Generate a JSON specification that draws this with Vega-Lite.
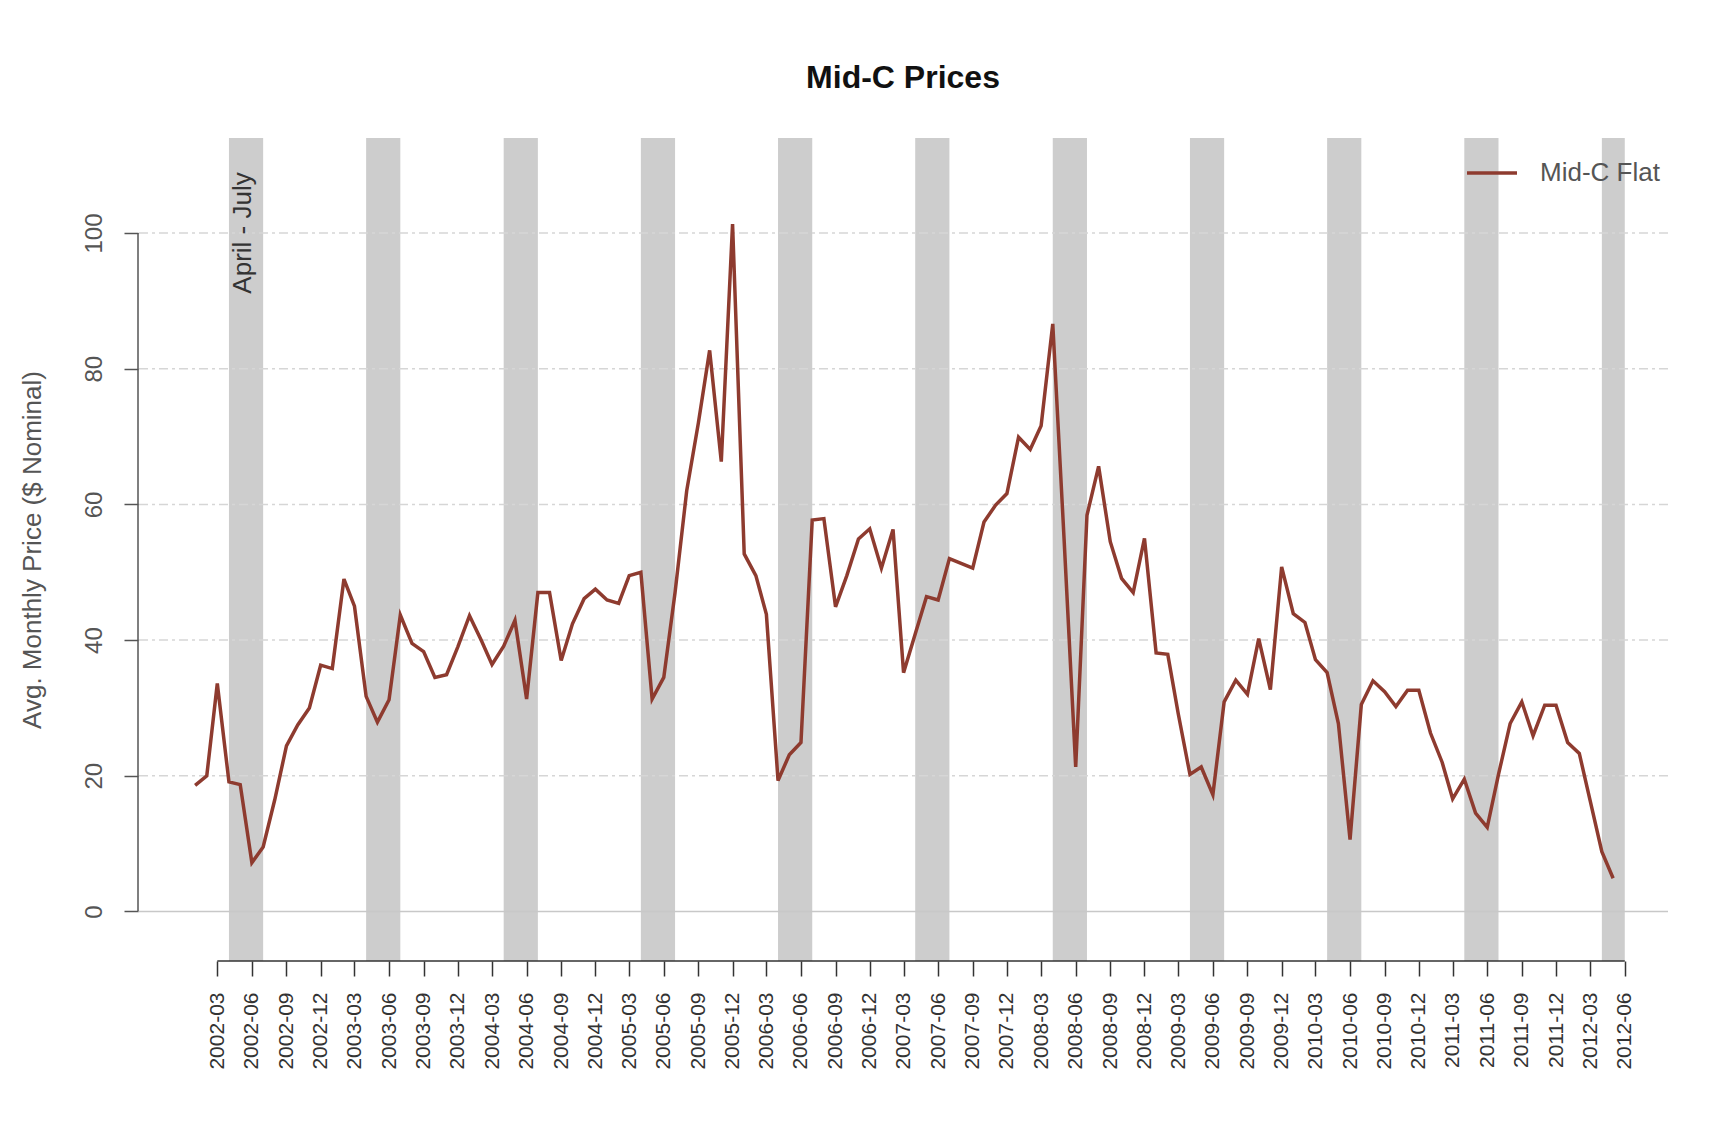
{
  "$schema": "https://vega.github.io/schema/vega-lite/v6.json",
  "width": 1530,
  "height": 823,
  "autosize": {"type": "none"},
  "padding": {"left": 138, "top": 138, "right": 58, "bottom": 160},
  "background": "white",
  "config": {
    "view": {"stroke": null},
    "font": "Liberation Sans",
    "axisX": {
      "orient": "bottom",
      "domain": false,
      "grid": false,
      "ticks": true,
      "tickSize": 15,
      "tickWidth": 1.5,
      "tickColor": "#333333",
      "labelAngle": 270,
      "labelAlign": "right",
      "labelBaseline": "middle",
      "labelPadding": 16,
      "labelFontSize": 21,
      "labelColor": "#333333",
      "labelFont": "Liberation Sans",
      "labelOverlap": false,
      "labelFlush": false,
      "labelBound": false
    },
    "axisY": {
      "orient": "left",
      "domain": false,
      "grid": false,
      "tickSize": 14,
      "tickWidth": 1.5,
      "tickColor": "#555555",
      "labelAngle": 270,
      "labelAlign": "center",
      "labelBaseline": "alphabetic",
      "labelPadding": 23,
      "labelFontSize": 24,
      "labelColor": "#555555",
      "labelFont": "Liberation Sans",
      "labelOverlap": false,
      "labelFlush": false,
      "titleFont": "Liberation Sans",
      "titleFontSize": 26,
      "titleFontWeight": "normal",
      "titleColor": "#555555",
      "titleAngle": 270,
      "titleAlign": "center",
      "titleBaseline": "alphabetic",
      "titleX": -98,
      "titleY": 411.5
    }
  },
  "title": {
    "text": "Mid-C Prices",
    "font": "Liberation Sans",
    "fontSize": 32,
    "fontWeight": "bold",
    "color": "#111111",
    "anchor": "middle",
    "frame": "group",
    "baseline": "alphabetic",
    "offset": 18
  },
  "datasets": {
    "prices": [
      {"date": "2002-01-01", "price": 18.6},
      {"date": "2002-02-01", "price": 20.0},
      {"date": "2002-03-01", "price": 33.6},
      {"date": "2002-04-01", "price": 19.1},
      {"date": "2002-05-01", "price": 18.7},
      {"date": "2002-06-01", "price": 7.2},
      {"date": "2002-07-01", "price": 9.5},
      {"date": "2002-08-01", "price": 16.5},
      {"date": "2002-09-01", "price": 24.4},
      {"date": "2002-10-01", "price": 27.5},
      {"date": "2002-11-01", "price": 30.0},
      {"date": "2002-12-01", "price": 36.3},
      {"date": "2003-01-01", "price": 35.8},
      {"date": "2003-02-01", "price": 49.0},
      {"date": "2003-03-01", "price": 45.0},
      {"date": "2003-04-01", "price": 31.7},
      {"date": "2003-05-01", "price": 27.9},
      {"date": "2003-06-01", "price": 31.2},
      {"date": "2003-07-01", "price": 43.7},
      {"date": "2003-08-01", "price": 39.5},
      {"date": "2003-09-01", "price": 38.3},
      {"date": "2003-10-01", "price": 34.5},
      {"date": "2003-11-01", "price": 34.9},
      {"date": "2003-12-01", "price": 39.0},
      {"date": "2004-01-01", "price": 43.6},
      {"date": "2004-02-01", "price": 40.0},
      {"date": "2004-03-01", "price": 36.4},
      {"date": "2004-04-01", "price": 39.1},
      {"date": "2004-05-01", "price": 42.9},
      {"date": "2004-06-01", "price": 31.3},
      {"date": "2004-07-01", "price": 47.0},
      {"date": "2004-08-01", "price": 47.0},
      {"date": "2004-09-01", "price": 37.0},
      {"date": "2004-10-01", "price": 42.4},
      {"date": "2004-11-01", "price": 46.1},
      {"date": "2004-12-01", "price": 47.5},
      {"date": "2005-01-01", "price": 45.9},
      {"date": "2005-02-01", "price": 45.4},
      {"date": "2005-03-01", "price": 49.5},
      {"date": "2005-04-01", "price": 50.0},
      {"date": "2005-05-01", "price": 31.3},
      {"date": "2005-06-01", "price": 34.5},
      {"date": "2005-07-01", "price": 47.0},
      {"date": "2005-08-01", "price": 62.0},
      {"date": "2005-09-01", "price": 72.0},
      {"date": "2005-10-01", "price": 82.7},
      {"date": "2005-11-01", "price": 66.3},
      {"date": "2005-12-01", "price": 101.3},
      {"date": "2006-01-01", "price": 52.7},
      {"date": "2006-02-01", "price": 49.5},
      {"date": "2006-03-01", "price": 43.8},
      {"date": "2006-04-01", "price": 19.3},
      {"date": "2006-05-01", "price": 23.1},
      {"date": "2006-06-01", "price": 24.9},
      {"date": "2006-07-01", "price": 57.7},
      {"date": "2006-08-01", "price": 57.9},
      {"date": "2006-09-01", "price": 44.9},
      {"date": "2006-10-01", "price": 49.5},
      {"date": "2006-11-01", "price": 54.9},
      {"date": "2006-12-01", "price": 56.4},
      {"date": "2007-01-01", "price": 50.6},
      {"date": "2007-02-01", "price": 56.3},
      {"date": "2007-03-01", "price": 35.2},
      {"date": "2007-04-01", "price": 40.9},
      {"date": "2007-05-01", "price": 46.4},
      {"date": "2007-06-01", "price": 45.9},
      {"date": "2007-07-01", "price": 52.0},
      {"date": "2007-08-01", "price": 51.3},
      {"date": "2007-09-01", "price": 50.6},
      {"date": "2007-10-01", "price": 57.4},
      {"date": "2007-11-01", "price": 59.9},
      {"date": "2007-12-01", "price": 61.6},
      {"date": "2008-01-01", "price": 69.9},
      {"date": "2008-02-01", "price": 68.1},
      {"date": "2008-03-01", "price": 71.6},
      {"date": "2008-04-01", "price": 86.6},
      {"date": "2008-05-01", "price": 55.0},
      {"date": "2008-06-01", "price": 21.3},
      {"date": "2008-07-01", "price": 58.4},
      {"date": "2008-08-01", "price": 65.6},
      {"date": "2008-09-01", "price": 54.5},
      {"date": "2008-10-01", "price": 49.1},
      {"date": "2008-11-01", "price": 47.0},
      {"date": "2008-12-01", "price": 55.0},
      {"date": "2009-01-01", "price": 38.1},
      {"date": "2009-02-01", "price": 37.9},
      {"date": "2009-03-01", "price": 29.1},
      {"date": "2009-04-01", "price": 20.2},
      {"date": "2009-05-01", "price": 21.3},
      {"date": "2009-06-01", "price": 17.2},
      {"date": "2009-07-01", "price": 30.9},
      {"date": "2009-08-01", "price": 34.1},
      {"date": "2009-09-01", "price": 32.0},
      {"date": "2009-10-01", "price": 40.2},
      {"date": "2009-11-01", "price": 32.7},
      {"date": "2009-12-01", "price": 50.8},
      {"date": "2010-01-01", "price": 43.9},
      {"date": "2010-02-01", "price": 42.6},
      {"date": "2010-03-01", "price": 37.1},
      {"date": "2010-04-01", "price": 35.2},
      {"date": "2010-05-01", "price": 27.7},
      {"date": "2010-06-01", "price": 10.6},
      {"date": "2010-07-01", "price": 30.5},
      {"date": "2010-08-01", "price": 34.0},
      {"date": "2010-09-01", "price": 32.4},
      {"date": "2010-10-01", "price": 30.2},
      {"date": "2010-11-01", "price": 32.6},
      {"date": "2010-12-01", "price": 32.6},
      {"date": "2011-01-01", "price": 26.3},
      {"date": "2011-02-01", "price": 22.0},
      {"date": "2011-03-01", "price": 16.6},
      {"date": "2011-04-01", "price": 19.5},
      {"date": "2011-05-01", "price": 14.5},
      {"date": "2011-06-01", "price": 12.4},
      {"date": "2011-07-01", "price": 20.2},
      {"date": "2011-08-01", "price": 27.7},
      {"date": "2011-09-01", "price": 30.9},
      {"date": "2011-10-01", "price": 25.9},
      {"date": "2011-11-01", "price": 30.4},
      {"date": "2011-12-01", "price": 30.4},
      {"date": "2012-01-01", "price": 24.9},
      {"date": "2012-02-01", "price": 23.3},
      {"date": "2012-03-01", "price": 16.3},
      {"date": "2012-04-01", "price": 8.8},
      {"date": "2012-05-01", "price": 4.9}
    ],
    "bands": [
      {"start": "2002-04-01", "end": "2002-07-01"},
      {"start": "2003-04-01", "end": "2003-07-01"},
      {"start": "2004-04-01", "end": "2004-07-01"},
      {"start": "2005-04-01", "end": "2005-07-01"},
      {"start": "2006-04-01", "end": "2006-07-01"},
      {"start": "2007-04-01", "end": "2007-07-01"},
      {"start": "2008-04-01", "end": "2008-07-01"},
      {"start": "2009-04-01", "end": "2009-07-01"},
      {"start": "2010-04-01", "end": "2010-07-01"},
      {"start": "2011-04-01", "end": "2011-07-01"},
      {"start": "2012-04-01", "end": "2012-06-01"}
    ],
    "grid": [
      {"g": 20}, {"g": 40}, {"g": 60}, {"g": 80}, {"g": 100}
    ],
    "one": [{}]
  },
  "layer": [
    {
      "data": {"name": "bands"},
      "mark": {"type": "rect", "color": "#cdcdcd"},
      "encoding": {
        "x": {
          "field": "start", "type": "temporal",
          "scale": {"type": "utc", "domain": [{"year": 2001, "month": 8, "date": 2, "utc": true}, {"year": 2012, "month": 9, "date": 24, "utc": true}]},
          "axis": {
            "values": [1014940800000, 1022889600000, 1030838400000, 1038700800000, 1046476800000, 1054425600000, 1062374400000, 1070236800000, 1078099200000, 1086048000000, 1093996800000, 1101859200000, 1109635200000, 1117584000000, 1125532800000, 1133395200000, 1141171200000, 1149120000000, 1157068800000, 1164931200000, 1172707200000, 1180656000000, 1188604800000, 1196467200000, 1204329600000, 1212278400000, 1220227200000, 1228089600000, 1235865600000, 1243814400000, 1251763200000, 1259625600000, 1267401600000, 1275350400000, 1283299200000, 1291161600000, 1298937600000, 1306886400000, 1314835200000, 1322697600000, 1330560000000, 1338508800000],
            "labelExpr": "utcFormat(datum.value, '%Y-%m')",
            "title": null
          }
        },
        "x2": {"field": "end"}
      }
    },
    {
      "data": {"name": "grid"},
      "mark": {"type": "rule", "color": "#d6d6d6", "strokeWidth": 1.5, "strokeDash": [9, 4, 3, 4]},
      "encoding": {
        "y": {
          "field": "g", "type": "quantitative",
          "scale": {"domain": [-7.3, 114], "nice": false, "zero": false},
          "axis": {"values": [0, 20, 40, 60, 80, 100], "title": "Avg. Monthly Price ($ Nominal)"}
        }
      }
    },
    {
      "data": {"name": "one"},
      "mark": {"type": "rule", "color": "#c8c8c8", "strokeWidth": 1.5},
      "encoding": {
        "y": {"datum": 0, "type": "quantitative", "scale": {"domain": [-7.3, 114], "nice": false, "zero": false},
          "axis": {"values": [0, 20, 40, 60, 80, 100], "title": "Avg. Monthly Price ($ Nominal)"}}
      }
    },
    {
      "data": {"name": "one"},
      "mark": {"type": "rule", "color": "#555555", "strokeWidth": 1.5},
      "encoding": {
        "x": {"datum": {"year": 2001, "month": 8, "date": 2, "utc": true}, "type": "temporal", "scale": {"type": "utc", "domain": [{"year": 2001, "month": 8, "date": 2, "utc": true}, {"year": 2012, "month": 9, "date": 24, "utc": true}]},
          "axis": {
            "values": [1014940800000, 1022889600000, 1030838400000, 1038700800000, 1046476800000, 1054425600000, 1062374400000, 1070236800000, 1078099200000, 1086048000000, 1093996800000, 1101859200000, 1109635200000, 1117584000000, 1125532800000, 1133395200000, 1141171200000, 1149120000000, 1157068800000, 1164931200000, 1172707200000, 1180656000000, 1188604800000, 1196467200000, 1204329600000, 1212278400000, 1220227200000, 1228089600000, 1235865600000, 1243814400000, 1251763200000, 1259625600000, 1267401600000, 1275350400000, 1283299200000, 1291161600000, 1298937600000, 1306886400000, 1314835200000, 1322697600000, 1330560000000, 1338508800000],
            "labelExpr": "utcFormat(datum.value, '%Y-%m')",
            "title": null
          }},
        "y": {"datum": 0, "type": "quantitative", "scale": {"domain": [-7.3, 114], "nice": false, "zero": false},
          "axis": {"values": [0, 20, 40, 60, 80, 100], "title": "Avg. Monthly Price ($ Nominal)"}},
        "y2": {"datum": 100}
      }
    },
    {
      "data": {"name": "one"},
      "mark": {"type": "rule", "color": "#333333", "strokeWidth": 1.5},
      "encoding": {
        "x": {"datum": {"year": 2002, "month": 3, "date": 1, "utc": true}, "type": "temporal", "scale": {"type": "utc", "domain": [{"year": 2001, "month": 8, "date": 2, "utc": true}, {"year": 2012, "month": 9, "date": 24, "utc": true}]},
          "axis": {
            "values": [1014940800000, 1022889600000, 1030838400000, 1038700800000, 1046476800000, 1054425600000, 1062374400000, 1070236800000, 1078099200000, 1086048000000, 1093996800000, 1101859200000, 1109635200000, 1117584000000, 1125532800000, 1133395200000, 1141171200000, 1149120000000, 1157068800000, 1164931200000, 1172707200000, 1180656000000, 1188604800000, 1196467200000, 1204329600000, 1212278400000, 1220227200000, 1228089600000, 1235865600000, 1243814400000, 1251763200000, 1259625600000, 1267401600000, 1275350400000, 1283299200000, 1291161600000, 1298937600000, 1306886400000, 1314835200000, 1322697600000, 1330560000000, 1338508800000],
            "labelExpr": "utcFormat(datum.value, '%Y-%m')",
            "title": null
          }},
        "x2": {"datum": {"year": 2012, "month": 6, "date": 1, "utc": true}},
        "y": {"datum": -7.3, "type": "quantitative", "scale": {"domain": [-7.3, 114], "nice": false, "zero": false},
          "axis": {"values": [0, 20, 40, 60, 80, 100], "title": "Avg. Monthly Price ($ Nominal)"}}
      }
    },
    {
      "data": {"name": "prices"},
      "mark": {"type": "line", "strokeWidth": 3.5, "interpolate": "linear"},
      "encoding": {
        "x": {
          "field": "date", "type": "temporal",
          "scale": {"type": "utc", "domain": [{"year": 2001, "month": 8, "date": 2, "utc": true}, {"year": 2012, "month": 9, "date": 24, "utc": true}]},
          "axis": {
            "values": [1014940800000, 1022889600000, 1030838400000, 1038700800000, 1046476800000, 1054425600000, 1062374400000, 1070236800000, 1078099200000, 1086048000000, 1093996800000, 1101859200000, 1109635200000, 1117584000000, 1125532800000, 1133395200000, 1141171200000, 1149120000000, 1157068800000, 1164931200000, 1172707200000, 1180656000000, 1188604800000, 1196467200000, 1204329600000, 1212278400000, 1220227200000, 1228089600000, 1235865600000, 1243814400000, 1251763200000, 1259625600000, 1267401600000, 1275350400000, 1283299200000, 1291161600000, 1298937600000, 1306886400000, 1314835200000, 1322697600000, 1330560000000, 1338508800000],
            "labelExpr": "utcFormat(datum.value, '%Y-%m')",
            "title": null
          }
        },
        "y": {
          "field": "price", "type": "quantitative",
          "scale": {"domain": [-7.3, 114], "nice": false, "zero": false},
          "axis": {"values": [0, 20, 40, 60, 80, 100], "title": "Avg. Monthly Price ($ Nominal)"}
        },
        "color": {
          "datum": "Mid-C Flat",
          "scale": {"range": ["#8e3b2f"]},
          "legend": {
            "orient": "none",
            "legendX": 1327,
            "legendY": 8,
            "title": null,
            "padding": 0,
            "symbolType": "stroke",
            "symbolSize": 2500,
            "symbolStrokeWidth": 3.5,
            "labelOffset": 21,
            "labelFontSize": 26,
            "labelFont": "Liberation Sans",
            "labelColor": "#555555"
          }
        }
      }
    },
    {
      "data": {"name": "one"},
      "mark": {"type": "text", "text": "April - July", "angle": 270, "align": "center", "baseline": "middle", "fontSize": 26, "font": "Liberation Sans", "color": "#333333"},
      "encoding": {
        "x": {"datum": {"year": 2002, "month": 5, "date": 8, "utc": true}, "type": "temporal", "scale": {"type": "utc", "domain": [{"year": 2001, "month": 8, "date": 2, "utc": true}, {"year": 2012, "month": 9, "date": 24, "utc": true}]},
          "axis": {
            "values": [1014940800000, 1022889600000, 1030838400000, 1038700800000, 1046476800000, 1054425600000, 1062374400000, 1070236800000, 1078099200000, 1086048000000, 1093996800000, 1101859200000, 1109635200000, 1117584000000, 1125532800000, 1133395200000, 1141171200000, 1149120000000, 1157068800000, 1164931200000, 1172707200000, 1180656000000, 1188604800000, 1196467200000, 1204329600000, 1212278400000, 1220227200000, 1228089600000, 1235865600000, 1243814400000, 1251763200000, 1259625600000, 1267401600000, 1275350400000, 1283299200000, 1291161600000, 1298937600000, 1306886400000, 1314835200000, 1322697600000, 1330560000000, 1338508800000],
            "labelExpr": "utcFormat(datum.value, '%Y-%m')",
            "title": null
          }},
        "y": {"datum": 100, "type": "quantitative", "scale": {"domain": [-7.3, 114], "nice": false, "zero": false},
          "axis": {"values": [0, 20, 40, 60, 80, 100], "title": "Avg. Monthly Price ($ Nominal)"}}
      }
    }
  ]
}
